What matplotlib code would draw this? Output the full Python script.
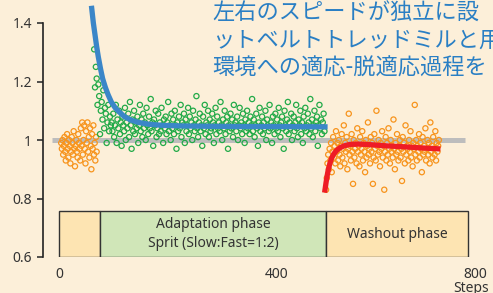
import numpy as np
import matplotlib.pyplot as plt
from matplotlib.patches import Rectangle

# ---- data ----
base_vals = [0.99, 0.97, 1.00, 0.95, 0.98, 1.01, 0.96, 0.93, 0.99, 1.02,
             0.97, 0.94, 1.00, 0.98, 0.92, 0.96, 1.01, 0.99, 0.95, 1.03,
             0.97, 0.91, 0.98, 1.00, 0.96, 0.94, 1.02, 0.99, 0.97, 0.93,
             1.04, 0.98, 1.06, 0.95, 1.00, 1.05, 0.97, 0.92, 1.03, 0.99,
             1.06, 0.96, 1.01, 0.94, 1.04, 0.98, 0.90, 1.02, 0.97, 1.05,
             0.95, 0.99, 0.93, 1.01, 0.96]

green_vals = [1.49, 1.31, 1.18, 1.25, 1.21, 1.12, 1.19, 1.15, 1.02, 1.10, 1.13,
              1.07, 1.17, 1.04, 1.11, 1.09, 0.99, 1.06, 1.12, 1.03, 1.08, 1.05,
              1.06, 1.03, 1.09, 1.01, 1.05, 1.12, 0.99, 1.07, 1.04, 1.10, 1.02, 1.06, 0.98, 1.08, 1.05,
              1.03, 1.11, 1.00, 1.06, 1.04, 1.09, 1.01, 1.13, 1.05, 0.97, 1.07, 1.03, 1.10, 1.02, 1.06,
              1.04, 1.08, 0.99, 1.05, 1.12, 1.03, 1.07, 1.01, 1.09, 1.04, 1.06, 1.00, 1.11, 1.05, 1.02,
              1.08, 1.04, 1.14, 1.03, 1.06, 0.98, 1.07, 1.05, 1.10, 1.01, 1.04, 1.09, 1.02, 1.06, 1.03,
              1.11, 1.05, 0.99, 1.07, 1.04, 1.08, 1.02, 1.06, 1.13, 1.03, 1.05, 1.00, 1.09, 1.04, 1.07,
              1.02, 1.10, 1.05, 0.97, 1.06, 1.03, 1.08, 1.04, 1.12, 1.01, 1.06, 1.05, 1.09, 0.99, 1.07,
              1.03, 1.05, 1.11, 1.02, 1.08, 1.04, 1.06, 1.00, 1.10, 1.05, 1.03, 1.07, 1.15, 1.04, 1.01,
              1.06, 1.09, 1.03, 1.05, 0.98, 1.08, 1.04, 1.12, 1.02, 1.06, 1.05, 1.10, 1.01, 1.07, 1.03,
              1.04, 1.09, 1.06, 0.99, 1.05, 1.11, 1.02, 1.08, 1.04, 1.06, 1.03, 1.13, 1.05, 1.00, 1.07,
              1.04, 1.10, 1.02, 1.06, 1.08, 0.97, 1.05, 1.03, 1.09, 1.04, 1.07, 1.01, 1.12, 1.05, 1.06,
              1.03, 1.08, 1.00, 1.05, 1.11, 1.04, 1.06, 1.02, 1.09, 1.05, 0.99, 1.07, 1.03, 1.10, 1.04,
              1.06, 1.02, 1.08, 1.05, 1.14, 1.03, 1.07, 1.01, 1.05, 1.09, 1.04, 0.98, 1.06, 1.11, 1.03,
              1.05, 1.08, 1.02, 1.06, 1.04, 1.10, 1.00, 1.07, 1.05, 1.03, 1.12, 1.04, 1.06, 0.99, 1.08,
              1.05, 1.02, 1.09, 1.04, 1.07, 1.03, 1.11, 1.05, 1.01, 1.06, 1.08, 1.04, 0.97, 1.10, 1.05,
              1.03, 1.07, 1.13, 1.02, 1.06, 1.04, 1.09, 1.00, 1.05, 1.08, 1.03, 1.06, 1.12, 1.04, 1.01,
              1.07, 1.05, 1.10, 1.02, 1.06, 0.99, 1.08, 1.04, 1.11, 1.03, 1.05, 1.09, 1.06, 1.02, 1.14,
              1.04, 1.07, 1.01, 1.05, 1.10, 1.03, 1.06, 1.08, 0.98, 1.05, 1.12, 1.04, 1.07, 1.02, 1.06,
              1.09, 1.03]

wash_vals = [0.83, 0.87, 0.92, 0.95, 0.90, 0.97, 0.93, 0.99, 0.89, 0.96, 1.01, 0.94, 0.98, 0.92, 1.03,
             0.96, 0.99, 0.93, 1.00, 0.95, 0.91, 0.98, 1.02, 0.94, 0.97, 1.05, 0.92, 0.99, 0.96, 1.01,
             0.90, 0.97, 1.09, 0.95, 0.98, 0.93, 1.02, 0.96, 0.85, 1.00, 0.94, 0.97, 0.99, 0.92, 1.04,
             0.96, 0.98, 0.91, 1.01, 0.95, 0.97, 1.03, 0.93, 0.99, 0.96, 0.89, 1.00, 0.94, 0.98, 1.06,
             0.95, 0.97, 0.92, 1.01, 0.96, 0.99, 0.85, 0.94, 1.02, 0.97, 0.93, 1.10, 0.98, 0.95, 1.00,
             0.96, 0.91, 0.99, 0.97, 1.03, 0.94, 0.98, 0.83, 0.96, 1.01, 0.93, 0.99, 0.95, 1.04, 0.97,
             0.92, 1.00, 0.96, 0.98, 0.94, 1.07, 0.97, 0.90, 0.99, 0.95, 1.02, 0.96, 0.93, 0.98, 1.00,
             0.94, 0.97, 0.86, 1.01, 0.96, 0.99, 0.92, 1.05, 0.95, 0.98, 0.97, 0.93, 1.00, 0.96, 1.03,
             0.94, 0.98, 0.91, 0.99, 0.97, 1.12, 0.95, 1.00, 0.93, 0.98, 0.96, 1.02, 0.94, 0.99, 0.97,
             0.89, 1.01, 0.95, 0.98, 0.96, 1.04, 0.93, 0.97, 1.00, 0.95, 0.99, 0.92, 1.06, 0.96, 0.98,
             0.94, 1.01, 0.97, 0.95, 1.03, 0.93, 0.99, 0.96, 0.98, 1.00]

# fitted curves
adapt_fit_steps = [60, 63, 66, 69, 72, 76, 80, 85, 90, 96, 103, 111, 120, 132, 146, 165, 190, 225, 270, 330, 400, 488]
adapt_fit_vals = [1.45, 1.40, 1.36, 1.32, 1.285, 1.245, 1.21, 1.18, 1.155, 1.13, 1.11, 1.095,
                  1.08, 1.068, 1.06, 1.054, 1.05, 1.048, 1.047, 1.046, 1.046, 1.045]
wash_fit_steps = [488, 490, 492, 494, 497, 500, 504, 509, 515, 523, 534, 550, 571, 600, 631, 665, 695]
wash_fit_vals = [0.829, 0.855, 0.878, 0.898, 0.920, 0.937, 0.952, 0.964, 0.973, 0.980,
                 0.985, 0.986, 0.984, 0.980, 0.977, 0.973, 0.970]

# phases: (start, end, colour, label)
phases = [(0, 75, '#fde4b2', ''),
          (75, 490, '#d0e6b8', 'Adaptation phase\nSprit (Slow:Fast=1:2)'),
          (490, 750, '#fde4b2', 'Washout phase')]

# the reference crops these lines at its right edge
title_lines = ['左右のスピードが独立に設',
               'ットベルトトレッドミルと用い',
               '環境への適応-脱適応過程を']

bg = '#fcefd9'
orange = '#f7941d'
green = '#22aa48'
blue = '#3b86c8'
red = '#ee1c25'

plt.rcParams['font.family'] = ['Noto Sans', 'Noto Sans CJK JP']

fig = plt.figure(figsize=(4.93, 2.93), dpi=100, facecolor=bg)
ax = fig.add_axes([43 / 493, 36 / 293, 450 / 493, 234 / 293])
ax.set_facecolor(bg)

ax.set_xlim(-29.4, 796.3)
ax.set_ylim(0.6, 1.4)

# reference line at 1
ax.plot([-13, 745], [1, 1], color='#bdbdbd', lw=3.6, solid_capstyle='butt', zorder=1)

base_steps = np.linspace(4, 69, len(base_vals))
green_steps = np.linspace(63, 487, len(green_vals))
wash_steps = np.linspace(490, 697, len(wash_vals))

kw = dict(s=14, facecolors='none', linewidths=0.9, clip_on=False, zorder=2)
ax.scatter(base_steps, base_vals, edgecolors=orange, **kw)
ax.scatter(green_steps, green_vals, edgecolors=green, **kw)
ax.scatter(wash_steps, wash_vals, edgecolors=orange, **kw)

ax.plot(adapt_fit_steps, adapt_fit_vals, color=blue, lw=3.8, clip_on=False, zorder=3)
ax.plot(wash_fit_steps, wash_fit_vals, color=red, lw=3.8, zorder=3)

# phase boxes
for start, end, col, lab in phases:
    ax.add_patch(Rectangle((start, 0.6), end - start, 0.157, facecolor=col,
                           edgecolor='#333333', lw=1.0, zorder=4))
    if lab:
        ax.text((start + end) / 2, 0.6 + 0.157 / 2, lab, ha='center', va='center',
                fontsize=10, color='#333333', linespacing=1.35, zorder=5)

for side in ['top', 'right', 'bottom']:
    ax.spines[side].set_visible(False)
ax.spines['left'].set_color('#222222')
ax.spines['left'].set_linewidth(1.2)

ax.set_yticks([0.6, 0.8, 1.0, 1.2, 1.4])
ax.set_yticklabels(['0.6', '0.8', '1', '1.2', '1.4'])
ax.set_xticks([0, 400, 763])
ax.set_xticklabels(['0', '400', '800'])
ax.tick_params(axis='y', direction='out', length=4, width=1.2, pad=4,
               labelsize=10, colors='#333333')
ax.tick_params(axis='x', length=0, pad=7, labelsize=10, colors='#333333')

fig.text(453 / 493, 1 - 288 / 293, 'Steps', fontsize=10, color='#333333',
         ha='left', va='center')

for i, line in enumerate(title_lines):
    fig.text(212 / 493, 1 - (13 + 27.5 * i) / 293, line, fontsize=16, color='#2a7fc4',
             ha='left', va='center', family=['Noto Sans CJK JP', 'DejaVu Sans'])

fig.savefig('out.png', dpi=100, facecolor=bg)
